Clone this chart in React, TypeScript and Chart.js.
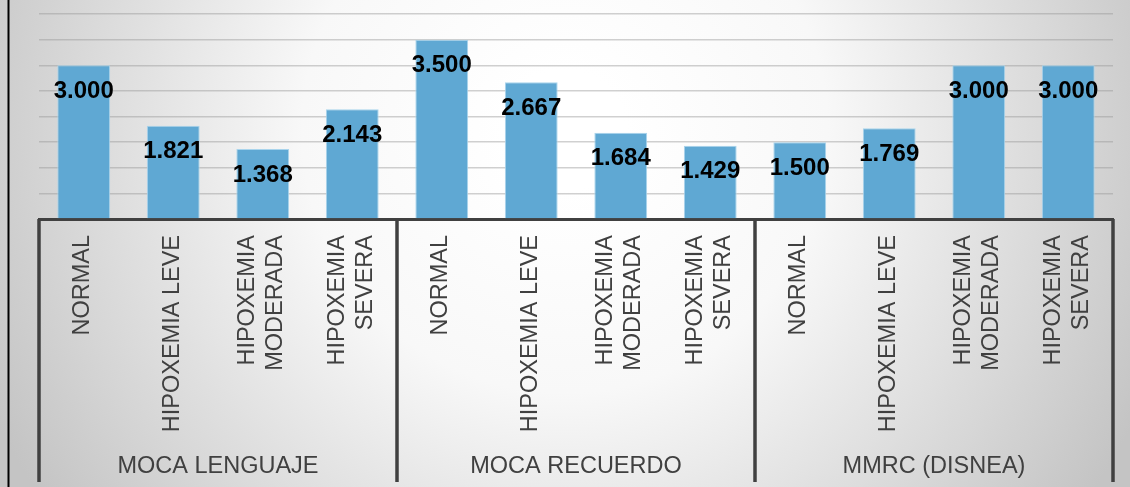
import React, { useEffect, useRef } from "react";
import { Chart, registerables } from "chart.js";

Chart.register(...registerables);

const categoryLabels: string[][] = [
  ["NORMAL"], ["HIPOXEMIA LEVE"], ["HIPOXEMIA", "MODERADA"], ["HIPOXEMIA", "SEVERA"],
  ["NORMAL"], ["HIPOXEMIA LEVE"], ["HIPOXEMIA", "MODERADA"], ["HIPOXEMIA", "SEVERA"],
  ["NORMAL"], ["HIPOXEMIA LEVE"], ["HIPOXEMIA", "MODERADA"], ["HIPOXEMIA", "SEVERA"],
];
const groupLabels = ["MOCA LENGUAJE", "MOCA RECUERDO", "MMRC (DISNEA)"];
const groupSize = 4;
const values = [3.0, 1.821, 1.368, 2.143, 3.5, 2.667, 1.684, 1.429, 1.5, 1.769, 3.0, 3.0];
const yMin = 0;
const yMax = 4;
const yStep = 0.5;

const FONT = "'Liberation Sans', Arial, sans-serif";

const bgPlugin = {
  id: "bgPlugin",
  beforeDraw(chart: any) {
    const { ctx, width, height } = chart;
    ctx.save();
    const g = ctx.createRadialGradient(565, 130, 60, 565, 130, 640);
    g.addColorStop(0, "#ffffff");
    g.addColorStop(0.35, "#f8f8f8");
    g.addColorStop(1, "#c4c4c4");
    ctx.fillStyle = g;
    ctx.fillRect(0, 0, width, height);
    ctx.fillStyle = "#000000";
    ctx.fillRect(7.5, 0, 2, height);
    ctx.restore();
  },
};

const decorPlugin = {
  id: "decorPlugin",
  afterDraw(chart: any) {
    const { ctx } = chart;
    const xs = chart.scales.x;
    const n = values.length;
    const w = xs.getPixelForValue(1) - xs.getPixelForValue(0);
    const top = chart.chartArea.bottom;
    const bottom = 482;
    ctx.save();
    // group separators
    ctx.strokeStyle = "#404040";
    ctx.lineWidth = 3.5;
    for (let gi = 0; gi <= n / groupSize; gi++) {
      const x = xs.getPixelForValue(0) - w / 2 + gi * groupSize * w;
      ctx.beginPath();
      ctx.moveTo(x, top);
      ctx.lineTo(x, bottom);
      ctx.stroke();
    }
    // category labels (rotated)
    ctx.fillStyle = "#404040";
    ctx.font = `23.5px ${FONT}`;
    ctx.textAlign = "right";
    ctx.textBaseline = "middle";
    const lh = 28;
    categoryLabels.forEach((lines, i) => {
      const x = xs.getPixelForValue(i);
      ctx.save();
      ctx.translate(x - 1, top + 16);
      ctx.rotate(-Math.PI / 2);
      lines.forEach((ln, j) => {
        ctx.fillText(ln, 0, (j - (lines.length - 1) / 2) * lh);
      });
      ctx.restore();
    });
    // group labels
    ctx.textAlign = "center";
    groupLabels.forEach((g, gi) => {
      const x = xs.getPixelForValue(gi * groupSize) - w / 2 + (groupSize * w) / 2;
      ctx.fillText(g, x, 467);
    });
    // value labels
    const meta = chart.getDatasetMeta(0);
    ctx.fillStyle = "#000000";
    ctx.font = `bold 24px ${FONT}`;
    meta.data.forEach((bar: any, i: number) => {
      ctx.fillText(values[i].toFixed(3), bar.x, bar.y + 26);
    });
    ctx.restore();
  },
};

export default function App() {
  const ref = useRef<HTMLCanvasElement | null>(null);
  useEffect(() => {
    if (!ref.current) return;
    const chart = new Chart(ref.current, {
      type: "bar",
      data: {
        labels: categoryLabels.map((l) => l.join(" ")),
        datasets: [
          {
            data: values,
            backgroundColor: "#5fa8d3",
            borderColor: "#a9d4ec",
            borderWidth: 1,
            barPercentage: 0.59,
            categoryPercentage: 1,
          },
        ],
      },
      options: {
        responsive: false,
        animation: false,
        events: [],
        layout: { padding: { left: 39, right: 17, top: 14, bottom: 0 } },
        plugins: { legend: { display: false }, tooltip: { enabled: false } },
        scales: {
          x: {
            afterFit: (s: any) => { s.height = 268; },
            grid: { display: false, drawTicks: false },
            border: { display: true, color: "#404040", width: 3 },
            ticks: { display: false },
          },
          y: {
            min: yMin,
            max: yMax,
            afterFit: (s: any) => { s.width = 0; },
            ticks: { display: false, stepSize: yStep },
            border: { display: false },
            grid: { color: "rgba(150,150,150,0.45)", lineWidth: 1.5, drawTicks: false },
          },
        },
      },
      plugins: [bgPlugin, decorPlugin],
    });
    return () => chart.destroy();
  }, []);
  return (
    <div style={{ position: "fixed", left: 0, top: 0, width: 1130, height: 487 }}>
      <canvas ref={ref} width={1130} height={487} style={{ display: "block" }} />
    </div>
  );
}
